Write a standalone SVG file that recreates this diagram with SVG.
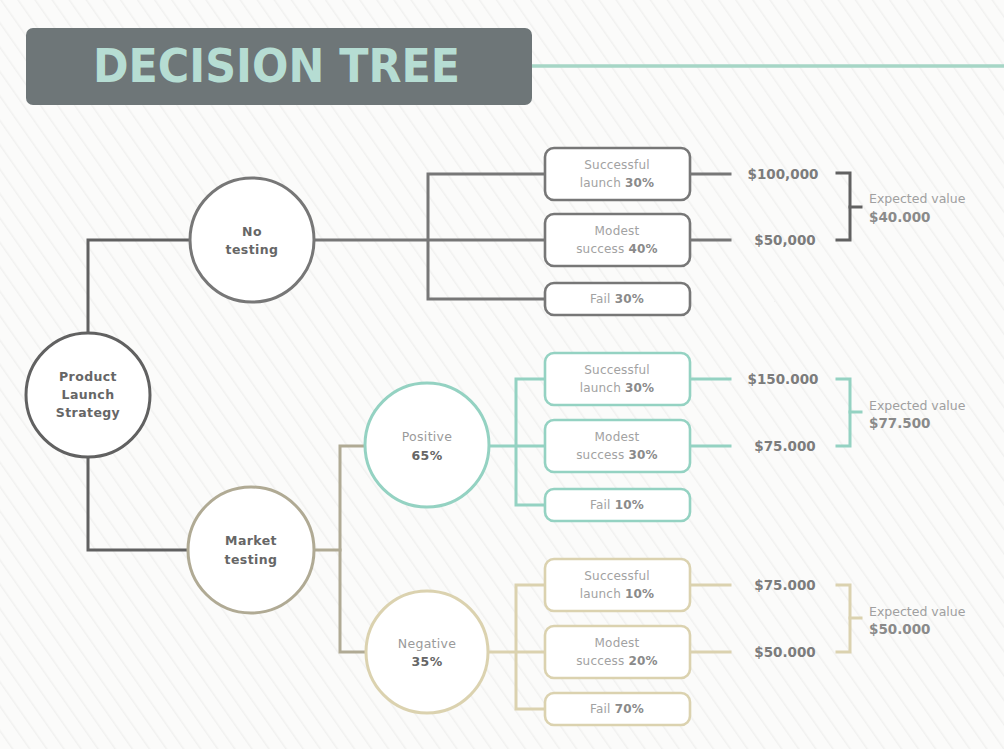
<svg xmlns="http://www.w3.org/2000/svg" width="1004" height="749" viewBox="0 0 1004 749">
<defs>
<pattern id="hatch" width="14" height="14" patternUnits="userSpaceOnUse" patternTransform="rotate(-35)">
<line x1="0" y1="0" x2="0" y2="14" stroke="#f1f1f0" stroke-width="3"/>
</pattern>
<style>
.bg{fill:#fbfbfa}
.ln{fill:none;stroke-width:3;stroke-linecap:square}
.gray{stroke:#777777}
.dark{stroke:#616161}
.tan{stroke:#b0aa94}
.teal{stroke:#94d2c2}
.beige{stroke:#dbd2af}
.circ{fill:#ffffff;stroke-width:3}
.box{fill:#ffffff;stroke-width:2.6}
.nl{font-family:"DejaVu Sans",sans-serif;font-size:12.5px;font-weight:bold;fill:#666666;text-anchor:middle;letter-spacing:0.4px}
.nr{font-family:"DejaVu Sans",sans-serif;font-size:12.5px;fill:#9a9a9a;text-anchor:middle;letter-spacing:0.3px}
.bt{font-family:"DejaVu Sans",sans-serif;font-size:12px;fill:#a2a2a2;text-anchor:middle;letter-spacing:0.2px}
.bb{font-weight:bold;fill:#8a8a8a}
.val{font-family:"DejaVu Sans",sans-serif;font-size:13.5px;font-weight:bold;fill:#7c7c7c;text-anchor:middle}
.ev{font-family:"DejaVu Sans",sans-serif;font-size:12.5px;fill:#a0a0a0}
.evb{font-weight:bold;fill:#8a8a8a;font-size:13.5px}
</style>
</defs>
<rect class="bg" x="0" y="0" width="1004" height="749"/>
<rect x="0" y="0" width="1004" height="749" fill="url(#hatch)"/>

<g id="title">
<rect x="26" y="28" width="506" height="77" rx="7" fill="#6e7678"/>
<text x="93" y="82" font-family="'DejaVu Sans Condensed','DejaVu Sans',sans-serif" font-stretch="condensed" font-weight="bold" font-size="47" fill="#b6ddd3" textLength="367" lengthAdjust="spacingAndGlyphs">DECISION TREE</text>
<line x1="532" y1="66" x2="1004" y2="66" stroke="#a6d6c6" stroke-width="3.5"/>
</g>

<g id="connectors">
<polyline class="ln dark" points="88,333 88,240 190,240"/>
<polyline class="ln dark" points="88,457 88,550 188,550"/>
<line class="ln gray" x1="313" y1="240" x2="545" y2="240"/>
<polyline class="ln gray" points="545,174 428,174 428,299 545,299"/>
<line class="ln tan" x1="314" y1="550" x2="340" y2="550"/>
<polyline class="ln tan" points="365,446 340,446 340,652 366,652"/>
<line class="ln teal" x1="489" y1="446" x2="545" y2="446"/>
<polyline class="ln teal" points="545,379 516,379 516,505 545,505"/>
<line class="ln beige" x1="488" y1="652" x2="545" y2="652"/>
<polyline class="ln beige" points="545,585 516,585 516,709 545,709"/>
<line class="ln gray" x1="690" y1="174" x2="730" y2="174"/>
<line class="ln gray" x1="690" y1="240" x2="730" y2="240"/>
<line class="ln teal" x1="690" y1="379" x2="730" y2="379"/>
<line class="ln teal" x1="690" y1="446" x2="730" y2="446"/>
<line class="ln beige" x1="690" y1="585" x2="730" y2="585"/>
<line class="ln beige" x1="690" y1="652" x2="730" y2="652"/>
<polyline class="ln dark" points="837,173 850,173 850,240 837,240" stroke-width="2.6"/>
<line class="ln dark" x1="850" y1="207" x2="861" y2="207" stroke-width="2"/>
<polyline class="ln teal" points="837,379 850,379 850,446 837,446" stroke-width="2.2"/>
<line class="ln teal" x1="850" y1="412" x2="861" y2="412" stroke-width="1.6"/>
<polyline class="ln beige" points="837,585 850,585 850,652 837,652" stroke-width="2.2"/>
<line class="ln beige" x1="850" y1="618" x2="861" y2="618" stroke-width="1.6"/>
</g>

<g id="root">
<circle class="circ dark" cx="88" cy="395" r="62"/>
<text class="nl" x="88" y="381">Product</text>
<text class="nl" x="88" y="399">Launch</text>
<text class="nl" x="88" y="417">Strategy</text>
</g>

<g id="no-testing">
<circle class="circ gray" cx="252" cy="240" r="62"/>
<text class="nl" x="252" y="236">No</text>
<text class="nl" x="252" y="254">testing</text>
</g>

<g id="market-testing">
<circle class="circ tan" cx="251" cy="550" r="63"/>
<text class="nl" x="251" y="545">Market</text>
<text class="nl" x="251" y="564">testing</text>
</g>

<g id="positive">
<circle class="circ teal" cx="427" cy="445" r="62"/>
<text class="nr" x="427" y="441">Positive</text>
<text class="nl" x="427" y="460" fill="#7a7a7a">65%</text>
</g>

<g id="negative">
<circle class="circ beige" cx="427" cy="652" r="61"/>
<text class="nr" x="427" y="648">Negative</text>
<text class="nl" x="427" y="666" fill="#7a7a7a">35%</text>
</g>

<g id="nt-success">
<rect class="box gray" x="545" y="148" width="145" height="52" rx="9"/>
<text class="bt" x="617" y="169">Successful</text>
<text class="bt" x="617" y="187">launch <tspan class="bb">30%</tspan></text>
</g>
<g id="nt-modest">
<rect class="box gray" x="545" y="214" width="145" height="52" rx="9"/>
<text class="bt" x="617" y="235">Modest</text>
<text class="bt" x="617" y="253">success <tspan class="bb">40%</tspan></text>
</g>
<g id="nt-fail">
<rect class="box gray" x="545" y="283" width="145" height="32" rx="9"/>
<text class="bt" x="617" y="303">Fail <tspan class="bb">30%</tspan></text>
</g>

<g id="pos-success">
<rect class="box teal" x="545" y="353" width="145" height="52" rx="9"/>
<text class="bt" x="617" y="374">Successful</text>
<text class="bt" x="617" y="392">launch <tspan class="bb">30%</tspan></text>
</g>
<g id="pos-modest">
<rect class="box teal" x="545" y="420" width="145" height="52" rx="9"/>
<text class="bt" x="617" y="441">Modest</text>
<text class="bt" x="617" y="459">success <tspan class="bb">30%</tspan></text>
</g>
<g id="pos-fail">
<rect class="box teal" x="545" y="489" width="145" height="32" rx="9"/>
<text class="bt" x="617" y="509">Fail <tspan class="bb">10%</tspan></text>
</g>

<g id="neg-success">
<rect class="box beige" x="545" y="559" width="145" height="52" rx="9"/>
<text class="bt" x="617" y="580">Successful</text>
<text class="bt" x="617" y="598">launch <tspan class="bb">10%</tspan></text>
</g>
<g id="neg-modest">
<rect class="box beige" x="545" y="626" width="145" height="52" rx="9"/>
<text class="bt" x="617" y="647">Modest</text>
<text class="bt" x="617" y="665">success <tspan class="bb">20%</tspan></text>
</g>
<g id="neg-fail">
<rect class="box beige" x="545" y="693" width="145" height="32" rx="9"/>
<text class="bt" x="617" y="713">Fail <tspan class="bb">70%</tspan></text>
</g>

<g id="values">
<text class="val" x="783" y="179">$100,000</text>
<text class="val" x="785" y="245">$50,000</text>
<text class="val" x="783" y="384">$150.000</text>
<text class="val" x="785" y="451">$75.000</text>
<text class="val" x="785" y="590">$75.000</text>
<text class="val" x="785" y="657">$50.000</text>
</g>

<g id="ev-top">
<text class="ev" x="869" y="203">Expected value</text>
<text class="ev evb" x="869" y="222">$40.000</text>
</g>
<g id="ev-pos">
<text class="ev" x="869" y="410">Expected value</text>
<text class="ev evb" x="869" y="428">$77.500</text>
</g>
<g id="ev-neg">
<text class="ev" x="869" y="616">Expected value</text>
<text class="ev evb" x="869" y="634">$50.000</text>
</g>
</svg>
